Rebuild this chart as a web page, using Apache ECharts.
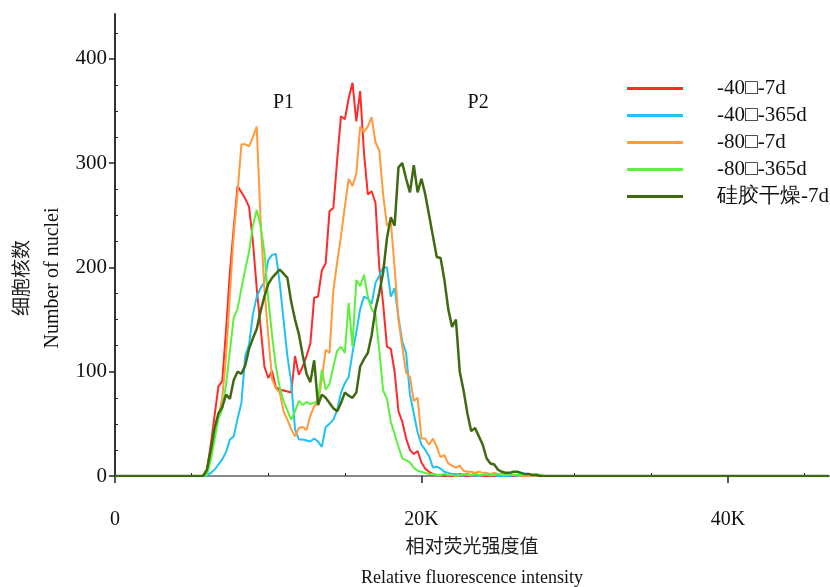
<!DOCTYPE html>
<html>
<head>
<meta charset="utf-8">
<script src="https://cdn.jsdelivr.net/npm/echarts@6/dist/echarts.min.js"></script>
<style>
  html, body { margin: 0; padding: 0; background: #fff; }
  #main { width: 830px; height: 587px; }
</style>
</head>
<body>
<div id="main"></div>
<script>
// histogram channels: first bin centre and bin width (fluorescence units)
const binStart = 5750;
const binWidth = 250;
const xMax = 46600;
const yMax = 443;

const seriesNames = ["-40□-7d", "-40□-365d", "-80□-7d", "-80□-365d", "硅胶干燥-7d"];
const seriesColors = ["#ff2a2a", "#1ec3f3", "#ff9a3d", "#5cf03c", "#3f6a12"];

const minus40_7d = [
  0, 6, 30, 58, 86, 91, 140, 195, 238, 278,
  272, 266, 258, 225, 180, 143, 105, 94, 101, 85,
  83, 82, 81, 80, 115, 97, 105, 115, 127, 171,
  172, 197, 204, 254, 257, 303, 345, 342, 362, 377,
  340, 369, 310, 270, 273, 262, 200, 165, 124, 122,
  100, 62, 52, 36, 25, 21, 24, 13, 7, 4,
  2, 1, 1, 0, 1, 0, 0, 2, 1, 0,
  1, 2, 1, 0, 0, 1, 0, 0, 0, 0,
  0, 0, 0, 0, 0, 0, 0, 0, 0, 0, 0
];
const minus40_365d = [
  0, 0, 3, 6, 11, 16, 23, 35, 38, 55,
  70, 115, 126, 155, 172, 180, 186, 207, 212, 213,
  185, 150, 115, 90, 45, 35, 35, 34, 33, 36,
  33, 28, 47, 50, 54, 63, 80, 89, 95, 118,
  138, 160, 172, 170, 165, 185, 192, 200, 200, 172,
  180, 152, 129, 118, 78, 60, 42, 30, 25, 19,
  8, 9, 7, 4, 3, 2, 2, 1, 1, 2,
  1, 1, 0, 1, 1, 2, 1, 0, 0, 0,
  0, 1, 0, 0, 0, 0, 0, 0, 0, 0, 0
];
const minus80_7d = [
  0, 3, 20, 48, 56, 75, 115, 175, 232, 272,
  318, 318, 316, 325, 335, 245, 180, 135, 93, 84,
  80, 62, 54, 45, 38, 46, 47, 44, 58, 67,
  70, 93, 121, 118, 178, 205, 230, 258, 285, 278,
  290, 335, 330, 335, 344, 320, 312, 270, 240, 244,
  200, 150, 124, 99, 95, 72, 75, 36, 36, 30,
  36, 28, 18, 20, 12, 10, 8, 10, 5, 4,
  4, 3, 4, 3, 3, 2, 3, 2, 2, 1,
  2, 1, 1, 0, 0, 0, 0, 0, 0, 0, 0
];
const minus80_365d = [
  0, 1, 15, 35, 55, 64, 88, 120, 152, 160,
  180, 198, 215, 240, 255, 240, 215, 170, 135, 105,
  85, 72, 63, 54, 62, 72, 68, 71, 69, 70,
  72, 102, 83, 88, 105, 120, 124, 118, 166, 124,
  188, 182, 193, 172, 160, 155, 120, 82, 74, 52,
  40, 28, 17, 15, 13, 8, 5, 4, 3, 2,
  2, 1, 1, 2, 1, 1, 0, 1, 2, 1,
  1, 2, 1, 1, 2, 1, 1, 2, 1, 1,
  2, 1, 1, 2, 1, 2, 1, 2, 1, 0, 0
];
const silicaGel_7d = [
  0, 6, 25, 46, 60, 66, 78, 74, 92, 100,
  98, 106, 122, 132, 141, 158, 172, 184, 190, 194,
  198, 194, 190, 167, 150, 136, 116, 98, 90, 111,
  68, 78, 75, 70, 65, 62, 70, 80, 77, 75,
  80, 105, 112, 118, 135, 160, 176, 195, 228, 248,
  240, 296, 300, 285, 272, 298, 272, 285, 270, 250,
  230, 210, 209, 188, 160, 143, 150, 100, 82, 60,
  43, 46, 38, 30, 17, 12, 11, 6, 4, 3,
  3, 4, 4, 3, 2, 2, 1, 1, 0, 0, 0
];
const seriesValues = [minus40_7d, minus40_365d, minus80_7d, minus80_365d, silicaGel_7d];

const xMajorTicks = [0, 20000, 40000];
const xMinorTicks = [5000, 10000, 15000, 25000, 30000, 35000, 45000];
const yMajorTicks = [0, 100, 200, 300, 400];
const yMinorTicks = [25, 50, 75, 125, 150, 175, 225, 250, 275, 325, 350, 375, 425];

const peakLabels = ["P1", "P2"];
const peakX = [11000, 23700];
const peakY = [358, 358];

const serif = "'Liberation Serif', 'Times New Roman', serif";
const cjk = "'Noto Sans CJK SC', sans-serif";

function toPairs(values) {
  const pts = [[0, 0]];
  values.forEach((v, i) => pts.push([binStart + i * binWidth, v]));
  pts.push([xMax, 0]);
  return pts;
}

const series = seriesNames.map((name, i) => ({
  name: name,
  type: "line",
  xAxisIndex: 0,
  yAxisIndex: 0,
  symbol: "none",
  color: seriesColors[i],
  lineStyle: { width: i === 4 ? 2.5 : 2 },
  data: toPairs(seriesValues[i])
}));
series[0].markPoint = {
  symbol: "circle",
  symbolSize: 1,
  itemStyle: { color: "transparent" },
  label: {
    show: true, position: "inside", formatter: "{b}",
    fontFamily: serif, fontSize: 20, color: "#111"
  },
  data: peakLabels.map((n, i) => ({ name: n, coord: [peakX[i], peakY[i]] }))
};

const options = {
  animation: false,
  backgroundColor: "#fff",
  grid: { left: 115, right: 1, top: 14, bottom: 111, outerBoundsMode: "none", containLabel: false },
  legend: {
    orient: "vertical",
    left: 627,
    top: 78,
    padding: 0,
    itemWidth: 56,
    itemHeight: 3,
    itemGap: 6,
    icon: "rect",
    data: seriesNames,
    textStyle: { fontFamily: serif, fontSize: 21, color: "#111", padding: [0, 0, 0, 29] }
  },
  xAxis: [
    {
      type: "value",
      min: 0,
      max: xMax,
      offset: 2,
      axisLine: { lineStyle: { color: "#888", width: 2 } },
      axisTick: { customValues: xMajorTicks, length: 7, lineStyle: { color: "#222", width: 1.5 } },
      axisLabel: {
        customValues: xMajorTicks,
        margin: 32,
        fontFamily: serif, fontSize: 20, color: "#111",
        formatter: (v) => (v === 0 ? "0" : v / 1000 + "K")
      },
      splitLine: { show: false },
      name: "{cn|相对荧光强度值}\n{en|Relative fluorescence intensity}",
      nameLocation: "middle",
      nameGap: 52,
      nameTextStyle: {
        rich: {
          cn: { fontFamily: cjk, fontSize: 19, lineHeight: 32, color: "#222" },
          en: { fontFamily: serif, fontSize: 18, lineHeight: 32, color: "#111" }
        }
      }
    },
    {
      type: "value",
      min: 0,
      max: xMax,
      offset: 2,
      axisLine: { show: false },
      axisTick: { customValues: xMinorTicks, length: 3, lineStyle: { color: "#222" } },
      axisLabel: { show: false },
      splitLine: { show: false }
    }
  ],
  yAxis: [
    {
      type: "value",
      min: 0,
      max: yMax,
      axisLine: { show: true, lineStyle: { color: "#333", width: 2 } },
      axisTick: { show: true, customValues: yMajorTicks, length: 6, lineStyle: { color: "#222", width: 1.5 } },
      axisLabel: {
        customValues: yMajorTicks,
        margin: 8,
        fontFamily: serif, fontSize: 21, color: "#111"
      },
      splitLine: { show: false },
      name: "{cn|细胞核数}\n{en|Number of nuclei}",
      nameLocation: "middle",
      nameRotate: 90,
      nameGap: 46,
      nameTextStyle: {
        padding: [0, 66, 0, 0],
        rich: {
          cn: { fontFamily: cjk, fontSize: 19, lineHeight: 32, color: "#222" },
          en: { fontFamily: serif, fontSize: 20, lineHeight: 32, color: "#111" }
        }
      }
    },
    {
      type: "value",
      min: 0,
      max: yMax,
      axisLine: { show: false },
      axisTick: { show: true, customValues: yMinorTicks, length: 3, lineStyle: { color: "#222" } },
      axisLabel: { show: false },
      splitLine: { show: false }
    }
  ],
  series: series
};

const myChart = echarts.init(document.getElementById("main"));
myChart.setOption(options);
window.onresize = function () {
  myChart.resize();
};
</script>
</body>
</html>
